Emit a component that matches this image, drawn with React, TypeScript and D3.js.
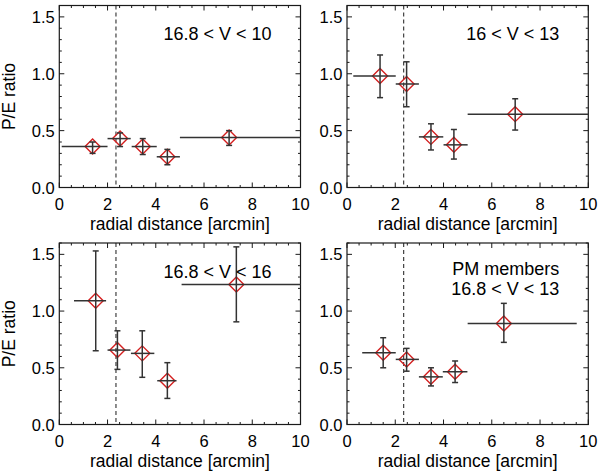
import React from 'react';
import * as d3 from 'd3';

// Panel 1: 16.8 < V < 10
const r1 = [1.38, 2.52, 3.46, 4.48, 7.04];
const r1Lo = [0.1, 2.0, 3.0, 4.04, 5.0];
const r1Hi = [2.0, 2.96, 4.04, 5.0, 10.0];
const pe1 = [0.36, 0.43, 0.36, 0.27, 0.44];
const pe1Lo = [0.3, 0.36, 0.29, 0.2, 0.37];
const pe1Hi = [0.4, 0.48, 0.43, 0.335, 0.5];

// Panel 2: 16 < V < 13
const r2 = [1.37, 2.47, 3.48, 4.43, 6.97];
const r2Lo = [0.26, 2.02, 2.98, 4.0, 5.0];
const r2Hi = [2.02, 2.98, 3.99, 5.0, 10.0];
const pe2 = [0.98, 0.91, 0.445, 0.375, 0.645];
const pe2Lo = [0.79, 0.71, 0.33, 0.25, 0.505];
const pe2Hi = [1.165, 1.105, 0.56, 0.51, 0.78];

// Panel 3: 16.8 < V < 16
const r3 = [1.51, 2.41, 3.44, 4.48, 7.34];
const r3Lo = [0.61, 2.0, 2.97, 4.06, 5.07];
const r3Hi = [1.94, 2.95, 3.94, 4.86, 10.0];
const pe3 = [1.09, 0.656, 0.627, 0.386, 1.235];
const pe3Lo = [0.65, 0.486, 0.416, 0.23, 0.905];
const pe3Hi = [1.53, 0.826, 0.826, 0.545, 1.566];

// Panel 4: PM members 16.8 < V < 13
const r4 = [1.5, 2.47, 3.48, 4.48, 6.5];
const r4Lo = [0.63, 2.02, 2.98, 3.97, 5.0];
const r4Hi = [2.02, 2.98, 3.97, 4.99, 9.52];
const pe4 = [0.633, 0.574, 0.42, 0.465, 0.89];
const pe4Lo = [0.5, 0.47, 0.34, 0.37, 0.724];
const pe4Hi = [0.765, 0.671, 0.5, 0.56, 1.068];

const xTicks = [0, 2, 4, 6, 8, 10];
const yTicks = [0.0, 0.5, 1.0, 1.5];
const coreRadius = 2.35;

const panels = [
  { r: r1, rLo: r1Lo, rHi: r1Hi, pe: pe1, peLo: pe1Lo, peHi: pe1Hi, label: ['16.8 < V < 10'] },
  { r: r2, rLo: r2Lo, rHi: r2Hi, pe: pe2, peLo: pe2Lo, peHi: pe2Hi, label: ['16 < V < 13'] },
  { r: r3, rLo: r3Lo, rHi: r3Hi, pe: pe3, peLo: pe3Lo, peHi: pe3Hi, label: ['16.8 < V < 16'] },
  { r: r4, rLo: r4Lo, rHi: r4Hi, pe: pe4, peLo: pe4Lo, peHi: pe4Hi, label: ['PM members', '16.8 < V < 13'] },
];

const FONT = '"Liberation Sans", Arial, Helvetica, sans-serif';
const colX = [[59.3, 300.5], [347, 588.3]];
const rowY = [[5.5, 187.5], [243, 424.5]];

const Panel: React.FC<{ idx: number }> = ({ idx }) => {
  const p = panels[idx];
  const col = idx % 2;
  const row = Math.floor(idx / 2);
  const [x0, x1] = colX[col];
  const [y0, y1] = rowY[row];
  const x = d3.scaleLinear().domain([0, 10]).range([x0, x1]);
  const y = d3.scaleLinear().domain([0, 1.6]).range([y1, y0]);

  const xMinor = d3.range(0, 10.001, 0.5);
  const yMinor = d3.range(0, 1.601, 0.1);
  const ink = '#1a1a1a';
  const bar = '#333';
  const red = '#d42020';
  const d = 7.5;

  return (
    <g>
      {/* frame */}
      <rect x={x0} y={y0} width={x1 - x0} height={y1 - y0} fill="none" stroke={ink} strokeWidth={1.2} />
      {/* x ticks, bottom and top */}
      {xMinor.map((v, i) => {
        const len = Math.abs(v % 2) < 1e-6 ? 5 : 2.5;
        return (
          <g key={'xt' + i}>
            <line x1={x(v)} x2={x(v)} y1={y1} y2={y1 - len} stroke={ink} />
            <line x1={x(v)} x2={x(v)} y1={y0} y2={y0 + len} stroke={ink} />
          </g>
        );
      })}
      {yMinor.map((v, i) => {
        const len = i % 5 === 0 ? 5 : 2.5;
        return (
          <g key={'yt' + i}>
            <line x1={x0} x2={x0 + len} y1={y(v)} y2={y(v)} stroke={ink} />
            <line x1={x1} x2={x1 - len} y1={y(v)} y2={y(v)} stroke={ink} />
          </g>
        );
      })}
      {xTicks.map(v => (
        <text key={'xl' + v} x={x(v)} y={y1 + 22} textAnchor="middle" fontSize={16.5} fontFamily={FONT} fill="#000">
          {v}
        </text>
      ))}
      {yTicks.map(v => (
        <text key={'yl' + v} x={x0 - 4.5} y={y(v) + 6} textAnchor="end" fontSize={16.5} fontFamily={FONT} fill="#000">
          {v.toFixed(1)}
        </text>
      ))}
      <text x={(x0 + x1) / 2} y={y1 + 42.5} textAnchor="middle" fontSize={17.5} fontFamily={FONT} fill="#000">
        radial distance [arcmin]
      </text>
      {col === 0 && (
        <text
          transform={`translate(15,${(y0 + y1) / 2}) rotate(-90)`}
          textAnchor="middle"
          fontSize={17.5}
          fontFamily={FONT}
          fill="#000"
        >
          P/E ratio
        </text>
      )}
      {/* core radius */}
      <line x1={x(coreRadius)} x2={x(coreRadius)} y1={y0} y2={y1} stroke={ink} strokeDasharray="4,3" />
      {/* diamonds */}
      {p.r.map((v, i) => (
        <path
          key={'dm' + i}
          d={`M${x(v)},${y(p.pe[i]) - d}L${x(v) + d},${y(p.pe[i])}L${x(v)},${y(p.pe[i]) + d}L${x(v) - d},${y(p.pe[i])}Z`}
          fill="none"
          stroke={red}
          strokeWidth={1.4}
        />
      ))}
      {/* error bars */}
      {p.r.map((v, i) => (
        <g key={'eb' + i} stroke={bar} strokeWidth={1.5}>
          <line x1={x(p.rLo[i])} x2={x(p.rHi[i])} y1={y(p.pe[i])} y2={y(p.pe[i])} />
          <line x1={x(v)} x2={x(v)} y1={y(p.peLo[i])} y2={y(p.peHi[i])} />
          <line x1={x(v) - 3} x2={x(v) + 3} y1={y(p.peLo[i])} y2={y(p.peLo[i])} />
          <line x1={x(v) - 3} x2={x(v) + 3} y1={y(p.peHi[i])} y2={y(p.peHi[i])} />
        </g>
      ))}
      {p.label.map((t, i) => (
        <text
          key={'lb' + i}
          x={x(8.8)}
          y={y0 + (p.label.length > 1 ? 32 : 34.5) + i * 19.5}
          textAnchor="end"
          fontSize={18}
          fontFamily={FONT}
          fill="#000"
        >
          {t}
        </text>
      ))}
    </g>
  );
};

const App: React.FC = () => (
  <svg
    width={600}
    height={471}
    viewBox="0 0 600 471"
    style={{ position: 'absolute', left: 0, top: 0, background: '#fff' }}
  >
    <rect width={600} height={471} fill="#fff" />
    {panels.map((_, i) => (
      <Panel key={i} idx={i} />
    ))}
  </svg>
);

export default App;
